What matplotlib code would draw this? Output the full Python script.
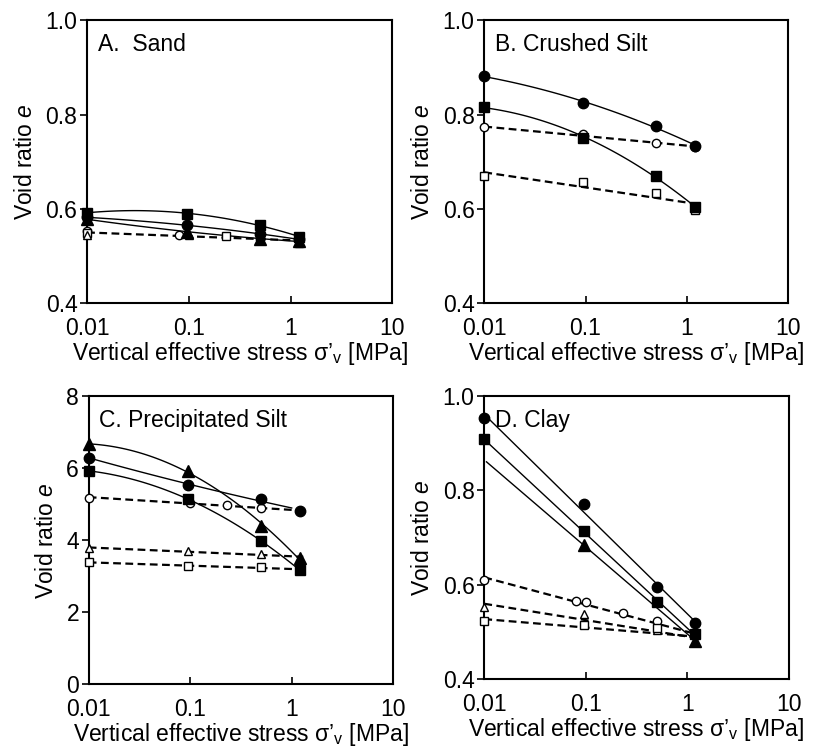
import numpy as np
import matplotlib.pyplot as plt

plt.rcParams['font.family'] = ['Liberation Sans', 'DejaVu Sans']
plt.rcParams['mathtext.fontset'] = 'custom'
plt.rcParams['mathtext.rm'] = 'Liberation Sans'
plt.rcParams['mathtext.it'] = 'Liberation Sans:italic'

# stress levels [MPa]
x4 = [0.01, 0.095, 0.5, 1.2]
x3 = [0.01, 0.095, 0.5]

# A. Sand
a_sq = [0.592, 0.590, 0.566, 0.541]
a_ci = [0.582, 0.566, 0.546, 0.536]
a_tr = [0.578, 0.552, 0.537, 0.531]
a_oc_x = [0.01, 0.08, 0.5]
a_oc = [0.553, 0.545, 0.536]
a_os_x = [0.01, 0.23]
a_os = [0.548, 0.543]
a_ot_x = [0.01, 0.1, 1.2]
a_ot = [0.545, 0.545, 0.528]

# B. Crushed Silt
b_ci = [0.881, 0.825, 0.776, 0.733]
b_sq = [0.815, 0.751, 0.670, 0.603]
b_oc = [0.773, 0.758, 0.739, 0.732]
b_os = [0.670, 0.657, 0.633, 0.598]

# C. Precipitated Silt
c_tr = [6.66, 5.92, 4.40, 3.49]
c_ci = [6.29, 5.52, 5.14, 4.81]
c_sq = [5.92, 5.14, 3.97, 3.17]
c_oc_x = [0.01, 0.1, 0.23, 0.5]
c_oc = [5.18, 5.03, 4.96, 4.89]
c_ot = [3.78, 3.70, 3.60]
c_os = [3.38, 3.29, 3.24]

# D. Clay
d_ci = [0.953, 0.771, 0.595, 0.519]
d_sq = [0.908, 0.713, 0.564, 0.495]
d_tr_x = [0.095, 1.2]
d_tr = [0.684, 0.481]
d_oc_x = [0.01, 0.08, 0.1, 0.23, 0.5]
d_oc = [0.610, 0.565, 0.563, 0.540, 0.522]
d_ot = [0.553, 0.537, 0.503]
d_os = [0.522, 0.515, 0.508]

xticks = [0.01, 0.1, 1, 10]
xticklabels = ['0.01', '0.1', '1', '10']

FS = 16.5


def fitline(ax, x, y, deg, ls, x0=0.01, x1=1.3):
    lx = np.log10(x)
    p = np.polyfit(lx, y, deg)
    xx = np.logspace(np.log10(x0), np.log10(x1), 100)
    ax.plot(xx, np.polyval(p, np.log10(xx)), color='black', lw=1.0 if ls == '-' else 1.6,
            ls=ls, dashes=(3.5, 2) if ls == '--' else (None, None), zorder=2)


def pts(ax, x, y, m, filled):
    if filled:
        ax.plot(x, y, m, color='black', ms=7.5 if m != '^' else 8, ls='none', clip_on=False, zorder=4)
    else:
        ax.plot(x, y, m, mfc='white', mec='black', mew=1.0, ms=6, ls='none', clip_on=False, zorder=3)


def style(ax, ylim, yticks, yfmt, title):
    ax.set_xscale('log')
    ax.set_xlim(0.01, 10)
    ax.set_ylim(*ylim)
    ax.set_xticks(xticks)
    ax.set_xticklabels(xticklabels)
    ax.minorticks_off()
    ax.set_yticks(yticks)
    ax.set_yticklabels([yfmt.format(v) for v in yticks])
    ax.tick_params(axis='x', direction='in', length=5, width=1.2, labelsize=FS, pad=10)
    ax.tick_params(axis='y', direction='out', length=5, width=1.2, labelsize=FS, pad=2)
    for s in ax.spines.values():
        s.set_linewidth(1.5)
    ax.set_xlabel('Vertical effective stress σ’$_{\\mathregular{v}}$ [MPa]', fontsize=FS, labelpad=0)
    ax.set_ylabel('Void ratio $\\mathit{e}$', fontsize=FS, labelpad=6)
    ax.text(0.035, 0.955, title, transform=ax.transAxes, fontsize=FS, va='top', ha='left')


fig = plt.figure(figsize=(8.14, 7.47), dpi=100)
axA = fig.add_axes([0.107, 0.594, 0.375, 0.379])
axB = fig.add_axes([0.595, 0.594, 0.373, 0.379])
axC = fig.add_axes([0.109, 0.084, 0.374, 0.386])
axD = fig.add_axes([0.595, 0.091, 0.374, 0.379])

# A
for y in (a_sq, a_ci, a_tr):
    fitline(axA, x4, y, 2, '-')
fitline(axA, a_oc_x + a_os_x + a_ot_x, a_oc + a_os + a_ot, 1, '--')
pts(axA, x4, a_sq, 's', True)
pts(axA, x4, a_ci, 'o', True)
pts(axA, x4, a_tr, '^', True)
pts(axA, a_oc_x, a_oc, 'o', False)
pts(axA, a_os_x, a_os, 's', False)
pts(axA, a_ot_x, a_ot, '^', False)
style(axA, (0.4, 1.0), [0.4, 0.6, 0.8, 1.0], '{:.1f}', 'A.  Sand')

# B
fitline(axB, x4, b_ci, 2, '-')
fitline(axB, x4, b_sq, 2, '-')
fitline(axB, x4, b_oc, 1, '--', x1=1.4)
fitline(axB, x4, b_os, 1, '--', x1=1.4)
pts(axB, x4, b_oc, 'o', False)
pts(axB, x4, b_os, 's', False)
pts(axB, x4, b_ci, 'o', True)
pts(axB, x4, b_sq, 's', True)
style(axB, (0.4, 1.0), [0.4, 0.6, 0.8, 1.0], '{:.1f}', 'B. Crushed Silt')

# C
fitline(axC, x4, c_tr, 2, '-')
fitline(axC, x4, c_ci, 2, '-', x1=1.0)
fitline(axC, x4, c_sq, 2, '-')
fitline(axC, c_oc_x + [1.2], c_oc + [4.81], 1, '--')
fitline(axC, x3 + [1.2], c_ot + [3.52], 1, '--')
fitline(axC, x3 + [1.2], c_os + [3.18], 1, '--')
pts(axC, c_oc_x, c_oc, 'o', False)
pts(axC, x3, c_ot, '^', False)
pts(axC, x3, c_os, 's', False)
pts(axC, x4, c_tr, '^', True)
pts(axC, x4, c_ci, 'o', True)
pts(axC, x4, c_sq, 's', True)
style(axC, (0, 8), [0, 2, 4, 6, 8], '{:.0f}', 'C. Precipitated Silt')

# D
fitline(axD, x4, d_ci, 1, '-', x1=1.2)
fitline(axD, x4, d_sq, 1, '-', x1=1.2)
fitline(axD, d_tr_x, d_tr, 1, '-', x0=0.0105, x1=1.2)
fitline(axD, d_oc_x + [1.2], d_oc + [0.487], 1, '--', x1=1.2)
fitline(axD, x3 + [1.2], d_ot + [0.480], 1, '--', x1=1.2)
fitline(axD, x3 + [1.2], d_os + [0.478], 1, '--', x1=1.2)
pts(axD, d_oc_x, d_oc, 'o', False)
pts(axD, x3, d_ot, '^', False)
pts(axD, x3, d_os, 's', False)
pts(axD, x4, d_ci, 'o', True)
pts(axD, x4, d_sq, 's', True)
pts(axD, d_tr_x, d_tr, '^', True)
style(axD, (0.4, 1.0), [0.4, 0.6, 0.8, 1.0], '{:.1f}', 'D. Clay')

fig.savefig('out.png', dpi=100)
